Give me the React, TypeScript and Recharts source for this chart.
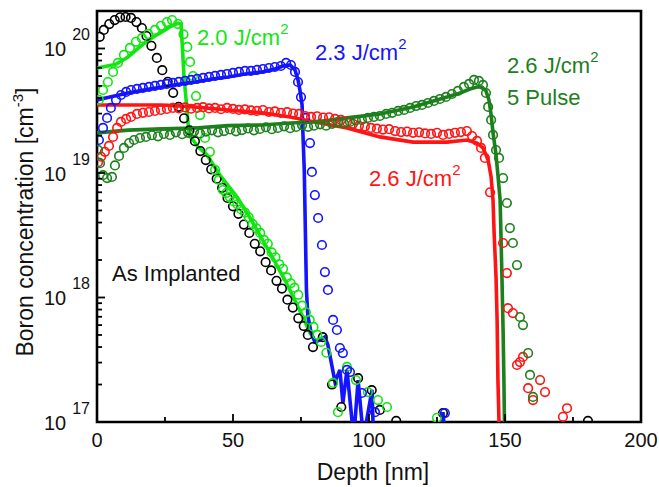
import React from 'react';
import {
  ComposedChart,
  Scatter,
  Line,
  XAxis,
  YAxis,
  ReferenceArea,
  Customized,
} from 'recharts';

// depth [nm], boron concentration [cm^-3]
type Pt = [number, number];

const FONT = '"Liberation Sans", Arial, Helvetica, sans-serif';

const C_IMPL = '#000000';
const C_20 = '#12e612';
const C_23 = '#1414ff';
const C_26 = '#ff1414';
const C_26P = '#1c801c';

// SIMS measurements (open circles)
const implantedPts: Pt[] = [
  [1.0, 1.24e20], [2.5, 1.41e20], [4.5, 1.57e20], [6.5, 1.69e20], [8.5, 1.78e20], [10.5, 1.79e20],
  [12.5, 1.76e20], [14.5, 1.63e20], [16.5, 1.46e20], [18.2, 1.26e20], [20, 1.05e20], [22, 8.4e19],
  [24, 6.7e19], [26, 5.4e19], [28, 4.4e19], [30, 3.4e19], [32, 2.75e19], [34, 2.2e19], [36, 1.8e19],
  [38, 1.5e19], [40, 1.27e19], [42, 1.07e19], [44, 9.0e18], [46, 7.6e18], [48, 6.3e18], [50, 5.4e18],
  [52, 4.7e18], [54, 3.85e18], [56, 3.3e18], [58, 2.7e18], [60, 2.35e18], [62, 1.92e18], [64, 1.65e18],
  [66, 1.36e18], [68, 1.18e18], [70, 9.6e17], [72, 8.3e17], [74, 6.8e17], [76, 5.9e17], [77.5, 5.0e17],
  [79.4, 4.0e17], [83, 4.8e17], [86.4, 2.0e17], [89.8, 1.32e17], [96, 2.25e17], [101, 1.8e17],
  [104, 1.25e17], [110, 1.02e17], [127.2, 1.18e17], [180.5, 1.02e17],
];

const j20Pts: Pt[] = [
  [0.7, 3.86e19], [2.2, 4.64e19], [4.0, 5.38e19], [5.9, 6.48e19], [7.7, 7.65e19], [9.9, 8.87e19],
  [12.1, 1.01e20], [14.3, 1.13e20], [16.5, 1.21e20], [18.8, 1.31e20], [21.3, 1.41e20], [23.5, 1.52e20],
  [25.7, 1.63e20], [27.6, 1.69e20], [29.8, 1.57e20], [31.8, 1.3e20], [33.2, 1.03e20], [34.2, 7.8e19],
  [35.3, 6.0e19], [36.4, 4.15e19], [37.9, 2.92e19], [39.7, 1.91e19], [41.5, 1.48e19], [43.4, 1.06e19],
  [44.8, 8.8e18], [46.3, 7.3e18], [47.5, 6.9e18], [48.8, 6.4e18], [50.2, 5.9e18], [51.6, 5.6e18],
  [53.0, 5.1e18], [54.4, 4.8e18], [55.8, 4.4e18], [57.2, 3.9e18], [58.6, 3.6e18], [60.0, 3.3e18],
  [61.4, 2.9e18], [62.8, 2.7e18], [64.2, 2.3e18], [65.6, 2.1e18], [67.0, 1.85e18], [68.4, 1.7e18],
  [69.8, 1.45e18], [71.2, 1.3e18], [72.6, 1.2e18], [74.0, 1.05e18], [75.4, 8.6e17], [76.8, 7.6e17],
  [78.2, 6.6e17], [79.6, 5.8e17], [81.0, 5.0e17], [82.4, 4.4e17], [84.3, 3.6e17], [86.8, 2.06e17],
  [88.6, 1.2e17], [91.9, 2.77e17], [95.2, 2.17e17], [99.6, 1.74e17], [103.3, 1.5e17], [106.6, 1.32e17],
  [125, 1.08e17],
];

const j23Pts: Pt[] = [
  [0.7, 1.84e19], [2.2, 2.3e19], [3.7, 2.77e19], [5.1, 3.33e19], [7.0, 3.86e19], [8.8, 4.23e19],
  [10.7, 4.48e19], [12.5, 4.64e19], [14.7, 4.73e19], [16.9, 4.82e19], [19.1, 4.91e19], [21.3, 5.0e19],
  [23.5, 5.1e19], [25.7, 5.19e19], [27.9, 5.29e19], [30.1, 5.39e19], [32.4, 5.49e19], [34.6, 5.59e19],
  [36.8, 5.7e19], [39.0, 5.8e19], [41.2, 5.91e19], [43.4, 6.02e19], [45.6, 6.13e19], [47.8, 6.24e19],
  [50.0, 6.36e19], [52.2, 6.48e19], [54.4, 6.6e19], [56.6, 6.6e19], [58.8, 6.72e19], [61.0, 6.84e19],
  [63.2, 6.97e19], [65.4, 7.1e19], [67.6, 7.23e19], [69.5, 7.65e19], [71.3, 7.37e19], [72.8, 6.48e19],
  [73.9, 5.38e19], [75.0, 4.07e19], [76.5, 2.77e19], [78.3, 1.74e19], [79.0, 1.02e19], [80.1, 6.65e18],
  [81.3, 4.35e18], [82.7, 2.64e18], [83.8, 1.6e18], [84.9, 1.15e18], [86.8, 6.6e17], [88.2, 5.48e17],
  [89.3, 3.93e17], [90.4, 3.58e17], [91.9, 2.62e17], [93.0, 2.52e17], [97.4, 1.71e17], [102.2, 1.2e17],
  [127.9, 1.18e17],
];

const j26Pts: Pt[] = [
  [0.4, 1.22e19], [1.5, 1.35e19], [2.9, 1.48e19], [4.4, 1.65e19], [5.9, 1.95e19], [7.4, 2.3e19],
  [8.8, 2.57e19], [10.7, 2.72e19], [12.5, 2.82e19], [14.7, 2.98e19], [16.9, 3.04e19], [19.1, 3.09e19],
  [21.3, 3.15e19], [23.5, 3.21e19], [25.7, 3.27e19], [27.9, 3.33e19], [30.1, 3.3e19], [32.4, 3.36e19],
  [34.6, 3.28e19], [36.8, 3.33e19], [39.0, 3.38e19], [41.2, 3.3e19], [43.4, 3.33e19], [45.6, 3.25e19],
  [47.8, 3.33e19], [50.0, 3.27e19], [52.2, 3.21e19], [54.4, 3.24e19], [56.6, 3.18e19], [58.8, 3.15e19],
  [61.0, 3.2e19], [63.2, 3.09e19], [65.4, 3.12e19], [67.6, 3.04e19], [69.9, 3.08e19], [72.1, 3.0e19],
  [74.3, 2.98e19], [76.5, 2.87e19], [78.7, 2.82e19], [80.9, 2.85e19], [83.1, 2.79e19], [85.3, 2.8e19],
  [87.5, 2.72e19], [89.7, 2.67e19], [91.9, 2.57e19], [94.1, 2.48e19], [96.3, 2.39e19], [98.5, 2.36e19],
  [100.7, 2.3e19], [102.9, 2.27e19], [105.1, 2.23e19], [107.4, 2.25e19], [109.6, 2.17e19], [111.8, 2.13e19],
  [114.0, 2.15e19], [116.2, 2.1e19], [118.4, 2.12e19], [120.6, 2.08e19], [122.8, 2.06e19], [125.0, 2.1e19],
  [127.2, 2.02e19], [129.4, 2.06e19], [131.6, 2.1e19], [133.8, 2.13e19], [136.0, 2.17e19], [137.9, 1.98e19],
  [139.7, 1.81e19], [141.2, 1.59e19], [142.6, 1.32e19], [144.5, 7.0e18], [149.3, 2.74e18], [150.7, 1.57e18],
  [151.1, 8.2e17], [152.9, 7.5e17], [154.4, 2.87e17], [155.5, 3.03e17], [156.6, 3.33e17], [158.5, 1.87e17],
  [160.3, 1.5e17], [162.9, 2.17e17], [164.7, 1.74e17], [171.3, 1.1e17], [172.8, 1.29e17],
];

const j26x5Pts: Pt[] = [
  [0.4, 1.53e19], [1.1, 1.2e19], [2.2, 9.6e18], [3.7, 9.1e18], [5.5, 9.3e18], [6.6, 1.15e19],
  [8.1, 1.37e19], [9.9, 1.59e19], [11.8, 1.74e19], [13.6, 1.84e19], [15.8, 1.91e19], [18.0, 1.95e19],
  [20.2, 2.01e19], [22.4, 1.97e19], [24.6, 2.06e19], [26.8, 2.02e19], [29.0, 2.12e19], [31.3, 2.05e19],
  [33.5, 2.1e19], [35.7, 2.16e19], [37.9, 2.08e19], [40.1, 2.15e19], [42.3, 2.2e19], [44.5, 2.12e19],
  [46.7, 2.17e19], [48.9, 2.24e19], [51.1, 2.16e19], [53.3, 2.21e19], [55.5, 2.28e19], [57.7, 2.2e19],
  [59.9, 2.26e19], [62.1, 2.33e19], [64.3, 2.25e19], [66.5, 2.3e19], [68.8, 2.37e19], [71.0, 2.29e19],
  [73.2, 2.34e19], [75.4, 2.42e19], [77.6, 2.35e19], [79.8, 2.4e19], [82.0, 2.46e19], [84.2, 2.4e19],
  [86.4, 2.48e19], [88.6, 2.55e19], [90.8, 2.5e19], [93.0, 2.57e19], [95.2, 2.64e19], [97.4, 2.67e19],
  [99.6, 2.77e19], [101.8, 2.82e19], [104.0, 2.87e19], [106.3, 2.98e19], [108.5, 3.04e19], [110.7, 3.15e19],
  [112.9, 3.21e19], [115.1, 3.33e19], [117.3, 3.45e19], [119.5, 3.52e19], [121.7, 3.65e19], [123.9, 3.79e19],
  [126.1, 3.93e19], [128.3, 4.08e19], [130.5, 4.31e19], [132.7, 4.56e19], [134.9, 4.91e19], [136.8, 5.19e19],
  [138.6, 5.59e19], [140.4, 5.49e19], [141.9, 5.1e19], [143.0, 4.39e19], [143.8, 3.39e19], [144.9, 2.67e19],
  [145.6, 2.02e19], [146.7, 1.53e19], [147.8, 1.32e19], [149.3, 9.1e18], [150.7, 5.74e18], [151.8, 3.61e18],
  [152.9, 2.74e18], [154.4, 1.82e18], [155.5, 6.97e17], [156.6, 6.0e17], [158.5, 3.58e17], [159.2, 2.39e17],
  [160.3, 1.59e17],
];

// simulated profiles (solid lines); values under 1e17 run off the bottom of the frame
const j20Sim: Pt[] = [
  [0, 6.97e19], [2.9, 7.17e19], [6.6, 7.43e19], [9.2, 7.96e19], [11.4, 8.55e19], [14.0, 9.55e19],
  [17.6, 1.11e20], [21.3, 1.26e20], [23.9, 1.36e20], [26.8, 1.49e20], [29.0, 1.57e20], [29.8, 1.6e20],
  [30.9, 1.57e20], [31.3, 1.11e20], [32.0, 5.9e19], [33.1, 3.2e19], [33.8, 2.02e19], [35.3, 1.84e19],
  [37.1, 1.62e19], [40.4, 1.4e19], [45.2, 9.6e18], [51.5, 6.4e18], [56.3, 4.35e18], [63.6, 2.28e18],
  [69.1, 1.38e18], [75.7, 6.97e17], [78.3, 5.2e17], [80.9, 4.3e17],
];

const j23Sim: Pt[] = [
  [0, 3.86e19], [4.8, 4.08e19], [11.4, 4.39e19], [17.6, 4.65e19], [23.9, 4.91e19], [30.5, 5.19e19],
  [36.0, 5.38e19], [42.3, 5.69e19], [48.2, 5.9e19], [54.4, 6.24e19], [60.7, 6.48e19], [65.4, 6.84e19],
  [68.4, 7.23e19], [71.0, 7.37e19], [72.8, 6.72e19], [73.9, 5.58e19], [74.6, 4.65e19], [75.4, 3.52e19],
  [75.7, 2.1e19], [76.2, 1.06e19], [76.6, 3.48e18], [77.0, 1.15e18], [77.5, 7.2e17], [78.7, 5.2e17],
  [80.1, 4.4e17], [82.0, 4.56e17], [83.8, 4.82e17], [84.9, 4.15e17], [87.5, 2.1e17], [89.3, 2.62e17],
  [90.4, 1.42e17], [91.9, 2.62e17], [93.8, 1.0e17], [94.3, 7e16], [96.0, 2.17e17], [97.4, 1.0e17],
  [97.8, 7e16], [101.1, 1.81e17], [101.7, 7e16], [126.4, 7e16], [127.2, 1.2e17], [128.0, 7e16],
];

const j26Sim: Pt[] = [
  [0, 3.52e19], [12.1, 3.52e19], [23.9, 3.52e19], [36.0, 3.39e19], [48.2, 3.21e19], [60.7, 3.04e19],
  [71.0, 2.82e19], [80.1, 2.57e19], [91.9, 2.3e19], [104.0, 1.95e19], [116.2, 1.77e19], [128.7, 1.77e19],
  [136.0, 1.84e19], [139.7, 1.74e19], [141.9, 1.59e19], [143.8, 1.27e19], [144.9, 9.3e18], [145.6, 6.07e18],
  [146.0, 3.3e18], [146.7, 1.46e18], [147.1, 6.6e17], [147.4, 2.17e17], [147.8, 1.0e17], [148.1, 5e16],
];

const j26x5Sim: Pt[] = [
  [0, 2.1e19], [11.4, 2.21e19], [23.9, 2.26e19], [36.0, 2.3e19], [48.2, 2.4e19], [60.7, 2.43e19],
  [71.0, 2.52e19], [80.1, 2.57e19], [91.9, 2.77e19], [104.0, 2.98e19], [116.2, 3.39e19], [128.7, 4.08e19],
  [133.5, 4.39e19], [137.1, 4.73e19], [139.7, 4.91e19], [141.5, 4.91e19], [143.0, 4.56e19], [144.1, 3.86e19],
  [144.9, 2.92e19], [145.6, 2.1e19], [146.7, 1.4e19], [147.4, 9.6e18], [148.2, 6.1e18], [148.5, 3.3e18],
  [148.9, 1.38e18], [149.3, 5.48e17], [149.6, 2.17e17], [149.8, 1.0e17], [150.1, 5e16],
];

const xTicks = [0, 25, 50, 75, 100, 125, 150, 175, 200];
const yTicks = [17, 18, 19].flatMap((e) => [1, 2, 3, 4, 5, 6, 7, 8, 9].map((k) => k * Math.pow(10, e))).concat([1e20]);
const Y_MIN = 1e17;
const Y_MAX = 2e20;

const toXY = (pts: Pt[]) => pts.map(([x, y]) => ({ x, y }));

const ring = (color: string) => (p: any) =>
  <circle cx={p.cx} cy={p.cy} r={4.3} fill="none" stroke={color} strokeWidth={1.6} />;

const XTick = (props: any) => {
  const { x, y, payload } = props;
  const major = payload.value % 50 === 0;
  return (
    <g>
      <line x1={x} x2={x} y1={y} y2={y - (major ? 8 : 5)} stroke="#000" strokeWidth={1.8} />
      {major && (
        <text x={x} y={y + 25} textAnchor="middle" fontSize={20} fontFamily={FONT} fill="#111">
          {payload.value}
        </text>
      )}
    </g>
  );
};

const YTick = (props: any) => {
  const { x, y, payload } = props;
  const e = Math.log10(payload.value);
  const major = Math.abs(e - Math.round(e)) < 1e-6;
  return (
    <g>
      <line x1={x} x2={x + (major ? 8 : 5)} y1={y} y2={y} stroke="#000" strokeWidth={1.8} />
      {major && (
        <text x={x - 7} y={y + 8} textAnchor="end" fontSize={20} fontFamily={FONT} fill="#111">
          10
          <tspan dx={6} dy={-16} fontSize={16}>{Math.round(e)}</tspan>
        </text>
      )}
    </g>
  );
};

const Labels = () => (
  <g fontFamily={FONT} fontSize={22}>
    <text x={197} y={45} fill={C_20}>
      2.0 J/cm<tspan dy={-11} fontSize={15}>2</tspan>
    </text>
    <text x={315} y={60} fill={C_23}>
      2.3 J/cm<tspan dy={-11} fontSize={15}>2</tspan>
    </text>
    <text x={507} y={73} fill={C_26P}>
      2.6 J/cm<tspan dy={-11} fontSize={15}>2</tspan>
    </text>
    <text x={507} y={105} fill={C_26P}>5 Pulse</text>
    <text x={369} y={186} fill={C_26}>
      2.6 J/cm<tspan dy={-11} fontSize={15}>2</tspan>
    </text>
    <text x={112} y={281} fill="#111">As Implanted</text>
    <text x={373} y={480} textAnchor="middle" fontSize={23} fill="#111">Depth [nm]</text>
    <text x={33} y={222} textAnchor="middle" fontSize={23} transform="rotate(-90 33 222)" fill="#111">
      Boron concentration [cm<tspan dy={-10} fontSize={15}>-3</tspan>
      <tspan dy={10}>]</tspan>
    </text>
  </g>
);

export default function App() {
  return (
    <div style={{ position: 'absolute', left: 0, top: 0, width: 659, height: 487, background: '#fff' }}>
      <ComposedChart width={659} height={487} margin={{ top: 11, right: 18, bottom: 0, left: 0 }}>
        <XAxis
          type="number"
          dataKey="x"
          domain={[0, 200]}
          ticks={xTicks}
          interval={0}
          allowDataOverflow
          axisLine={false}
          tickLine={false}
          tickSize={0}
          tickMargin={0}
          tick={<XTick />}
          height={65}
        />
        <YAxis
          type="number"
          dataKey="y"
          scale="log"
          domain={[Y_MIN, Y_MAX]}
          ticks={yTicks}
          interval={0}
          allowDataOverflow
          axisLine={false}
          tickLine={false}
          tickSize={0}
          tickMargin={0}
          tick={<YTick />}
          width={97}
        />

        <Scatter data={toXY(implantedPts)} shape={ring(C_IMPL)} isAnimationActive={false} />
        <Scatter data={toXY(j20Pts)} shape={ring(C_20)} isAnimationActive={false} />
        <Scatter data={toXY(j23Pts)} shape={ring(C_23)} isAnimationActive={false} />
        <Scatter data={toXY(j26Pts)} shape={ring(C_26)} isAnimationActive={false} />
        <Scatter data={toXY(j26x5Pts)} shape={ring(C_26P)} isAnimationActive={false} />

        <Line data={toXY(j20Sim)} dataKey="y" type="linear" stroke={C_20} strokeWidth={3.6} dot={false} isAnimationActive={false} />
        <Line data={toXY(j23Sim)} dataKey="y" type="linear" stroke={C_23} strokeWidth={3.6} dot={false} isAnimationActive={false} />
        <Line data={toXY(j26Sim)} dataKey="y" type="linear" stroke={C_26} strokeWidth={3.6} dot={false} isAnimationActive={false} />
        <Line data={toXY(j26x5Sim)} dataKey="y" type="linear" stroke={C_26P} strokeWidth={3.6} dot={false} isAnimationActive={false} />

        <ReferenceArea
          x1={0}
          x2={200}
          y1={Y_MIN}
          y2={Y_MAX}
          fill="none"
          fillOpacity={0}
          stroke="#000"
          strokeWidth={2.6}
          ifOverflow="visible"
        />
        <Customized component={Labels} />
      </ComposedChart>
    </div>
  );
}
